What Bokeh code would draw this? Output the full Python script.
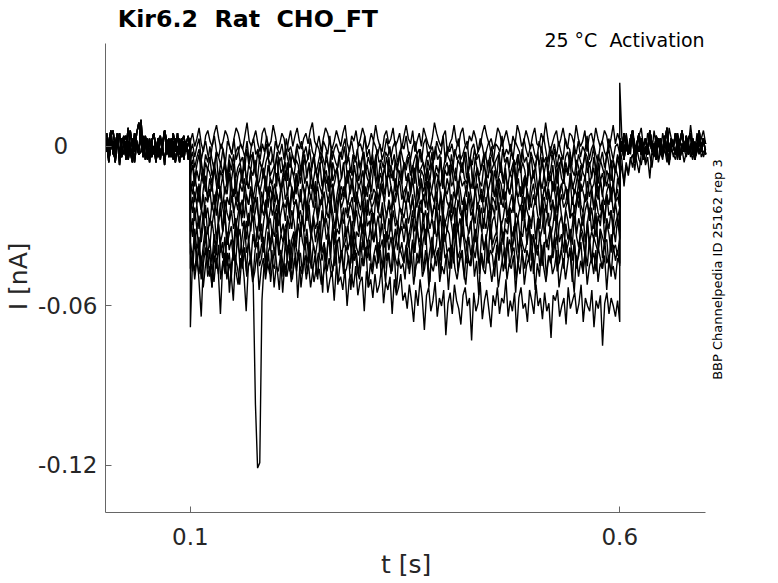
from math import pi
import numpy as np
from bokeh.plotting import figure
from bokeh.models import Range1d, FixedTicker, Label
from bokeh.embed import file_html
from bokeh.resources import INLINE

# ---------------- data (currents in pA) ----------------
t_start, t_on, t_off, t_end = 0.0, 0.1, 0.6, 0.7

x_ticks = [0.1, 0.6]
y_ticks = [-0.12, -0.06, 0.0]
NB = "\u00a0"
y_tick_labels = {-0.12: "-0.12", -0.06: "-0.06", 0.0: "0" + NB * 4}

# holding current before the step (0 - 0.1 s)
pre_a = [3,5,-2,4,6,-1,1,5,-4,2,4,-3,6,0,-2,5,9,2,-3,4,0,-4,2,5,-2,3,-3,1,6,2,-4,3,0,-2,5,-3,2,4,-2,1,3]
pre_b = [-2,3,-5,0,2,-6,3,-3,1,4,-5,2,-2,-6,3,0,-3,10,-2,2,-5,3,-4,0,-6,2,4,-2,-5,1,3,-4,2,-6,0,-2,3,-5,2,-3,0]
pre_c = [3,-2,2,6,-3,1,5,-4,3,2,-2,7,0,-3,5,2,-2,6,-4,1,3,-3,2,5,-2,-4,3,0,6,-3,2,-2,5,0,-3,3,-4,2,1,4,-2]
pre_d = [-3,1,-6,2,-2,-5,3,-7,0,-3,2,-5,-1,3,-6,1,-3,-2,4,-5,0,-6,2,-3,-1,3,-5,1,-7,2,-3,0,-5,3,-2,-6,1,-3,2,-5,-1]

# current during the step (0.1 - 0.6 s), one list per sweep
sweep_01 = [2,5,0,3,7,1,-2,4,6,2,0,5,8,3,-1,2,6,4,0,-3,3,7,5,1,-1,4,9,2,0,3,6,1,-2,5,7,3,0,2,8,4,-1,1,5,3,-3,2,6,0,4,7,2,-1,3,5,1,6,9,2,0,4,-2,3,7,5,1,-1,2,6,3,0,5,8,1,-2,4,2,6,0,3,7,4,-1,1,5,2,8,3,0,-2,4,6,1,3,7,0,2,5,-1,4,8,
            3,1,6,-2,2,5,0,7,4,1,-1,3,9,5,2,0,4,6,-3,1,3,8,2,0,5,7,1,-1,4,2,6,3,-2,0,5,8,4,1,3,-1,2,7,5,0,3,6,2,-2,4,1,8,5,0,2,6,3,-1,4,7,1,0,5,2,9,3,-2,1,4,6,0,3,7,2,-1,5,4,1,8,3,0,2,6,-2,4,5,1,7,3,0,2,6,4,-1,3,8,1,5,2]
sweep_02 = [-2,1,-4,0,3,-5,-1,2,-3,-6,0,4,-2,-4,1,-1,-7,2,0,-3,3,-5,-2,1,-1,-4,2,-6,0,3,-3,-1,-5,1,-2,4,-4,0,-6,2,-1,-3,1,-5,3,-2,0,-4,-7,1,-1,2,-3,0,-5,3,-2,-4,1,-1,-6,2,0,-3,4,-5,-1,1,-2,-4,0,3,-6,-1,2,-3,-5,0,1,-2,4,-4,-1,-7,2,0,-3,1,-5,-2,3,-1,-4,0,2,-6,-3,1,-1,4,
            -2,-5,0,2,-3,-1,-6,1,3,-4,-2,0,-5,2,-1,-3,4,-6,0,-2,1,-4,-1,3,-5,-3,0,2,-7,-1,1,-4,-2,3,0,-5,-1,2,-3,-6,1,0,-2,4,-4,-1,-3,1,-5,2,0,-2,-6,3,-1,-4,0,1,-3,-5,2,-2,4,-1,-6,0,-3,1,-4,2,-2,-5,3,0,-1,-7,1,-3,2,-4,0,-2,4,-5,-1,1,-3,-6,0,2,-2,-4,3,-1,-5,0,1,-3]
sweep_03 = [-5,-2,-8,-4,-1,-7,-10,-3,-6,0,-5,-9,-2,-4,-7,-1,-6,-11,-3,-5,-8,-2,0,-6,-4,-9,-1,-7,-3,-5,-10,-2,-6,-8,-4,1,-5,-7,-3,-9,-2,-6,-4,-11,-1,-5,-8,-3,-6,0,-4,-9,-2,-7,-5,-1,-8,-3,-10,-6,-2,-4,-7,-5,-9,-1,-3,-6,-8,-2,-5,0,-7,-4,-10,-3,-6,-1,-8,-5,-2,-9,-4,-7,-3,-11,-1,-6,-5,-8,-2,-4,0,-7,-3,-9,-6,-1,-5,-8,
            -4,-2,-10,-6,-3,-7,-1,-5,-9,-4,-2,-8,-6,0,-5,-3,-11,-7,-2,-4,-6,-9,-1,-5,-3,-8,-6,-2,-10,-4,-7,-1,-5,-3,-9,-6,-2,-8,-4,0,-7,-5,-3,-10,-1,-6,-4,-8,-2,-5,-7,-3,-9,-1,-6,-4,-11,-2,-5,-8,-3,-7,0,-6,-4,-9,-2,-5,-1,-8,-3,-6,-10,-4,-2,-7,-5,-1,-9,-3,-6,-8,-2,-4,-7,-5,0,-10,-3,-6,-2,-8,-4,-1,-7,-5,-9,-3,-6]
sweep_04 = [-8,-5,-12,-7,-3,-10,-14,-6,-9,-4,-11,-8,-2,-13,-6,-10,-7,-15,-5,-9,-3,-12,-8,-6,-11,-4,-14,-7,-9,-2,-10,-13,-5,-8,-12,-6,-3,-11,-9,-7,-15,-4,-10,-8,-6,-13,-2,-9,-11,-5,-7,-14,-8,-3,-12,-6,-10,-4,-9,-13,-7,-5,-11,-2,-8,-15,-6,-10,-9,-3,-12,-7,-5,-14,-8,-11,-4,-6,-13,-9,-2,-10,-7,-12,-5,-8,-3,-14,-6,-11,-9,-4,-10,-7,-13,-5,-8,-2,-12,-6,
            -9,-4,-11,-7,-14,-3,-10,-8,-6,-13,-5,-9,-2,-12,-7,-10,-4,-15,-8,-6,-11,-3,-9,-13,-5,-7,-10,-2,-12,-8,-6,-14,-4,-9,-11,-7,-3,-13,-5,-10,-8,-6,-12,-2,-9,-14,-7,-4,-11,-8,-5,-13,-3,-10,-6,-9,-15,-7,-4,-12,-8,-2,-11,-6,-10,-5,-13,-9,-3,-7,-14,-8,-4,-12,-6,-10,-2,-9,-11,-5,-8,-13,-7,-3,-10,-6,-12,-4,-9,-14,-5,-8,-11,-2,-7,-13,-6,-10,-4,-9]
sweep_05 = [-11,-7,-15,-9,-13,-5,-12,-17,-8,-10,-14,-6,-11,-16,-9,-12,-4,-15,-10,-13,-7,-18,-11,-8,-14,-6,-12,-16,-9,-11,-5,-15,-13,-8,-10,-17,-7,-12,-14,-9,-4,-11,-16,-10,-13,-6,-15,-8,-12,-18,-9,-11,-5,-14,-10,-7,-16,-13,-8,-12,-6,-15,-11,-9,-17,-4,-13,-10,-8,-14,-12,-6,-16,-9,-11,-15,-7,-13,-5,-10,-18,-8,-12,-14,-9,-6,-11,-16,-10,-13,-7,-15,-4,-12,-9,-17,-8,-11,-14,-6,
            -13,-10,-16,-7,-12,-5,-15,-9,-11,-18,-8,-13,-6,-14,-10,-12,-4,-16,-9,-11,-7,-15,-13,-8,-17,-10,-6,-12,-14,-9,-5,-16,-11,-8,-13,-15,-7,-10,-12,-4,-17,-9,-14,-11,-6,-13,-8,-16,-10,-12,-5,-15,-9,-7,-18,-11,-13,-6,-14,-10,-8,-16,-12,-4,-11,-15,-9,-13,-7,-17,-10,-6,-12,-14,-8,-11,-5,-16,-13,-9,-15,-7,-10,-12,-4,-14,-11,-8,-17,-6,-13,-10,-15,-9,-12,-5,-16,-8,-11,-14]
sweep_06 = [-14,-18,-11,-16,-21,-13,-9,-15,-19,-12,-17,-8,-14,-20,-16,-11,-18,-13,-7,-15,-19,-12,-21,-14,-10,-17,-13,-16,-9,-20,-15,-11,-18,-14,-8,-16,-19,-12,-15,-21,-10,-13,-17,-14,-9,-18,-12,-16,-20,-11,-15,-7,-14,-19,-13,-17,-10,-16,-21,-12,-15,-18,-9,-14,-11,-20,-16,-13,-8,-17,-15,-19,-12,-10,-18,-14,-21,-11,-16,-13,-9,-19,-15,-12,-17,-7,-14,-20,-16,-11,-18,-13,-10,-15,-19,-12,-17,-9,-14,-21,
            -16,-11,-18,-13,-8,-15,-20,-12,-17,-14,-10,-19,-16,-11,-21,-13,-15,-9,-18,-12,-16,-7,-14,-20,-17,-11,-15,-13,-19,-10,-16,-12,-18,-8,-14,-21,-15,-11,-17,-13,-9,-19,-16,-12,-14,-20,-10,-15,-18,-13,-7,-16,-12,-19,-14,-11,-17,-21,-13,-9,-15,-18,-12,-16,-10,-20,-14,-11,-17,-13,-8,-19,-15,-12,-16,-21,-10,-14,-18,-13,-9,-17,-15,-11,-20,-12,-16,-14,-8,-18,-13,-19,-11,-15,-10,-17,-14,-21,-12,-16]
sweep_07 = [-17,-13,-21,-15,-19,-24,-16,-11,-20,-18,-14,-22,-17,-12,-19,-23,-15,-18,-10,-21,-16,-20,-24,-14,-17,-12,-19,-22,-15,-18,-21,-13,-16,-25,-17,-11,-23,-15,-19,-14,-18,-22,-16,-12,-20,-17,-24,-15,-19,-10,-18,-21,-14,-17,-23,-16,-20,-13,-18,-15,-22,-19,-11,-17,-21,-14,-16,-25,-18,-13,-20,-15,-19,-22,-16,-12,-18,-21,-14,-17,-23,-15,-19,-13,-20,-16,-18,-24,-14,-17,-21,-11,-19,-15,-22,-18,-16,-13,-20,-17,
            -15,-21,-18,-12,-19,-23,-16,-14,-20,-17,-24,-13,-18,-21,-15,-11,-19,-22,-16,-18,-14,-25,-17,-20,-13,-16,-22,-19,-15,-12,-18,-23,-17,-14,-20,-16,-21,-11,-18,-24,-15,-19,-13,-17,-22,-16,-20,-14,-18,-12,-23,-17,-19,-15,-21,-13,-16,-24,-18,-14,-20,-17,-11,-22,-15,-19,-16,-21,-13,-18,-25,-17,-14,-20,-15,-19,-12,-22,-16,-18,-23,-14,-17,-21,-13,-19,-15,-24,-16,-20,-12,-18,-22,-17,-14,-21,-15,-19,-16,-23]
sweep_08 = [-20,-25,-17,-22,-14,-23,-27,-19,-21,-16,-24,-18,-26,-20,-15,-23,-28,-19,-22,-13,-25,-21,-17,-24,-20,-27,-18,-22,-16,-25,-19,-23,-28,-17,-21,-24,-15,-20,-26,-22,-18,-25,-14,-21,-23,-19,-27,-17,-22,-20,-25,-16,-24,-19,-28,-21,-18,-23,-13,-26,-20,-22,-17,-25,-19,-24,-14,-21,-27,-18,-23,-20,-16,-25,-22,-19,-28,-17,-21,-24,-15,-20,-26,-18,-23,-21,-17,-25,-19,-14,-22,-27,-20,-24,-18,-21,-16,-23,-26,-19,
            -22,-17,-24,-20,-27,-15,-21,-25,-18,-23,-13,-20,-26,-22,-17,-24,-19,-28,-16,-21,-23,-18,-25,-20,-14,-22,-27,-19,-24,-17,-21,-26,-15,-23,-20,-18,-25,-22,-16,-28,-19,-21,-24,-13,-20,-23,-17,-26,-22,-18,-25,-15,-21,-24,-19,-27,-16,-20,-23,-18,-22,-14,-26,-21,-19,-25,-17,-24,-20,-28,-15,-22,-18,-23,-21,-16,-27,-19,-24,-20,-13,-22,-25,-18,-21,-26,-17,-23,-19,-15,-24,-20,-28,-18,-22,-16,-25,-21,-19,-23]
sweep_09 = [-24,-19,-28,-22,-31,-25,-18,-27,-23,-30,-21,-26,-17,-29,-24,-32,-20,-25,-28,-19,-23,-31,-26,-21,-27,-16,-24,-30,-22,-28,-25,-19,-32,-23,-26,-20,-29,-24,-17,-27,-22,-30,-25,-21,-28,-19,-26,-31,-23,-20,-27,-24,-29,-18,-25,-22,-33,-26,-21,-28,-23,-19,-30,-24,-27,-20,-25,-31,-22,-17,-26,-29,-23,-27,-21,-24,-30,-19,-25,-28,-22,-32,-20,-26,-23,-29,-18,-24,-27,-21,-31,-25,-22,-28,-19,-26,-30,-23,-24,-27,
            -21,-29,-25,-18,-26,-32,-23,-20,-28,-24,-30,-19,-27,-22,-25,-31,-17,-24,-29,-26,-21,-28,-23,-33,-20,-25,-27,-22,-30,-18,-26,-24,-29,-21,-27,-23,-31,-19,-25,-28,-22,-26,-16,-24,-30,-27,-21,-29,-23,-25,-20,-32,-26,-22,-28,-19,-24,-27,-31,-23,-20,-26,-29,-18,-25,-22,-30,-27,-21,-24,-28,-19,-26,-32,-23,-20,-27,-25,-29,-22,-17,-26,-30,-24,-21,-28,-23,-31,-20,-25,-27,-22,-29,-18,-26,-24,-30,-21,-27,-23]
sweep_10 = [-28,-34,-23,-31,-26,-36,-29,-22,-33,-27,-30,-24,-35,-28,-21,-32,-26,-37,-29,-24,-31,-27,-34,-22,-30,-28,-35,-25,-32,-20,-29,-33,-26,-36,-28,-23,-31,-27,-34,-25,-30,-22,-33,-29,-37,-26,-31,-24,-28,-35,-23,-30,-27,-32,-21,-29,-34,-26,-31,-28,-36,-24,-30,-27,-33,-22,-29,-35,-25,-31,-28,-23,-34,-30,-26,-37,-29,-24,-32,-27,-33,-21,-30,-28,-35,-25,-31,-26,-34,-23,-29,-36,-27,-32,-24,-30,-28,-33,-26,-31,
            -27,-35,-30,-24,-32,-28,-22,-34,-29,-37,-25,-31,-27,-33,-21,-30,-26,-36,-28,-32,-24,-29,-35,-23,-31,-27,-34,-20,-28,-33,-30,-25,-36,-29,-22,-32,-27,-31,-24,-35,-28,-26,-33,-21,-30,-37,-27,-29,-23,-34,-31,-25,-28,-36,-22,-30,-32,-26,-29,-24,-35,-27,-31,-21,-33,-28,-25,-34,-30,-23,-37,-29,-26,-32,-24,-28,-35,-30,-22,-33,-27,-31,-25,-36,-29,-23,-32,-28,-34,-26,-30,-21,-35,-27,-31,-24,-33,-29,-26,-32]
sweep_11 = [-32,-27,-37,-30,-40,-33,-25,-35,-31,-38,-28,-34,-41,-29,-36,-32,-24,-37,-33,-30,-39,-27,-35,-31,-42,-34,-28,-36,-30,-26,-38,-33,-35,-29,-40,-32,-27,-37,-31,-34,-25,-39,-33,-36,-30,-28,-41,-35,-32,-38,-29,-34,-26,-37,-31,-40,-33,-28,-36,-30,-39,-34,-27,-35,-32,-42,-29,-37,-31,-33,-26,-38,-35,-30,-36,-28,-40,-32,-34,-27,-39,-31,-37,-33,-25,-36,-30,-41,-34,-29,-38,-32,-35,-27,-37,-31,-39,-33,-30,-36,
            -29,-38,-34,-27,-40,-31,-36,-33,-25,-37,-30,-35,-42,-28,-34,-32,-39,-26,-36,-31,-33,-41,-29,-35,-30,-38,-24,-34,-37,-32,-28,-40,-33,-36,-27,-31,-39,-35,-30,-26,-37,-34,-32,-42,-28,-36,-31,-33,-25,-38,-35,-29,-40,-32,-34,-27,-37,-30,-36,-33,-41,-28,-35,-31,-24,-38,-34,-30,-39,-32,-27,-36,-33,-40,-29,-35,-31,-37,-26,-34,-38,-30,-33,-42,-28,-36,-32,-35,-25,-39,-31,-34,-37,-29,-33,-40,-30,-36,-27,-35]
sweep_12 = [-36,-42,-31,-39,-34,-45,-37,-30,-41,-35,-44,-33,-38,-29,-40,-36,-46,-32,-39,-35,-43,-31,-37,-41,-34,-28,-40,-36,-44,-33,-38,-30,-42,-37,-35,-45,-32,-39,-34,-41,-29,-37,-43,-36,-31,-40,-35,-46,-33,-38,-42,-30,-36,-39,-34,-44,-32,-37,-41,-35,-28,-40,-36,-43,-33,-38,-31,-45,-37,-34,-42,-36,-30,-39,-35,-44,-32,-38,-41,-34,-29,-40,-37,-43,-33,-36,-31,-42,-38,-35,-46,-32,-39,-34,-41,-37,-30,-40,-36,-43,
            -38,-33,-44,-36,-40,-29,-37,-42,-35,-31,-45,-39,-34,-41,-37,-28,-43,-36,-33,-40,-38,-46,-32,-35,-42,-39,-30,-37,-44,-34,-41,-36,-31,-39,-45,-33,-38,-35,-43,-29,-40,-37,-34,-42,-36,-32,-46,-38,-35,-41,-30,-39,-44,-33,-37,-40,-36,-28,-43,-34,-38,-41,-32,-45,-37,-35,-39,-31,-42,-36,-34,-44,-38,-30,-40,-37,-33,-43,-35,-46,-39,-32,-36,-41,-29,-38,-44,-34,-37,-40,-31,-42,-36,-35,-45,-33,-39,-37,-41,-34]
sweep_13 = [-40,-47,-35,-44,-38,-50,-41,-33,-46,-39,-53,-37,-43,-48,-36,-42,-34,-45,-40,-49,-37,-44,-31,-46,-41,-38,-47,-35,-43,-50,-39,-36,-45,-42,-34,-48,-40,-37,-44,-46,-33,-41,-39,-49,-36,-43,-47,-38,-35,-45,-42,-40,-48,-34,-44,-39,-46,-37,-41,-50,-36,-43,-38,-45,-33,-42,-47,-40,-35,-44,-39,-48,-37,-41,-46,-34,-43,-40,-49,-36,-45,-38,-42,-35,-47,-41,-37,-44,-39,-46,-33,-43,-40,-48,-36,-42,-45,-38,-41,-44,
            -37,-46,-42,-35,-49,-40,-44,-33,-47,-39,-43,-51,-36,-41,-45,-38,-48,-34,-42,-40,-46,-37,-44,-31,-47,-41,-39,-50,-36,-43,-45,-38,-42,-35,-48,-40,-46,-33,-44,-39,-41,-49,-37,-43,-36,-47,-42,-34,-45,-40,-38,-50,-44,-35,-41,-46,-39,-43,-33,-48,-40,-37,-45,-42,-36,-49,-41,-44,-38,-34,-47,-43,-39,-46,-35,-42,-40,-51,-37,-44,-41,-36,-48,-39,-45,-34,-43,-40,-47,-38,-42,-46,-35,-44,-41,-49,-37,-43,-39,-45]
sweep_14 = [-68,-42,-47,-39,-51,-64,-44,-38,-49,-45,-53,-41,-46,-37,-50,-43,-48,-40,-55,-44,-39,-47,-52,-42,-46,-38,-49,-44,-41,-52,-97,-121,-119,-58,-44,
            -47,-40,-51,-43,-38,-46,-54,-41,-45,-49,-37,-44,-50,-42,-47,-39,-53,-45,-41,-48,-36,-44,-51,-46,-40,-43,-55,-38,-47,-42,-49,-45,-37,-52,-44,-40,-48,-46,-41,-54,-43,-39,-47,-50,-42,-45,-38,-53,-44,-48,-41,-46,-36,-49,-43,-51,-40,-45,-47,-39,-55,-42,-46,-44,-50,-38,-48,-41,-52,-45,-43,-37,-49,-46,-40,-53,-44,-47,-42,-39,-51,-45,-48,-41,-54,-43,-38,-46,-50,-44,-40,-47,-52,-42,-45,-37,-49,-43,-56,-41,-46,-48,-39,-44,-51,-45,-40,-53,-47,-42,-38,-50,-44,-46,-41,-55,-43,-48,-39,-52,-45,-42,-47,-40,-54,-44,-49,-37,-46,-51,-43,-41,-48,-45,-39,-53,-47,-42,-50,-44,-38,-46,-55,-41,-49,-43,-47,-40,-52,-45,-42,-48,-39,-51,-44,-46,-41,-54,-43,-47,-45,-50,-42,-44]
sweep_15 = [-46,-40,-50,-43,-48,-41,-53,-45,-39,-49,-44,-51,-42,-47,-63,-45,-40,-50,-44,-48,-58,-42,-46,-52,-41,-49,-62,-45,-43,-51,-47,-40,-54,-46,-42,-50,-44,-48,-39,-53,-45,-47,-41,-55,-44,-49,-43,-51,-46,-40,-57,-45,-48,-42,-50,-44,-53,-47,-41,-49,
            -46,-52,-48,-44,-55,-50,-47,-58,-45,-51,-49,-54,-46,-60,-50,-48,-53,-45,-56,-51,-49,-62,-47,-53,-50,-57,-48,-55,-52,-46,-59,-51,-54,-49,-63,-50,-56,-53,-48,-58,
            -55,-61,-52,-58,-66,-54,-60,-50,-57,-69,-56,-53,-62,-58,-51,-64,-57,-60,-54,-71,-59,-55,-63,-52,-58,-61,-67,-56,-53,-60,-57,-73,-55,-62,-59,-51,-65,-58,-54,-61,-68,-56,-60,-53,-63,-57,-59,-50,-64,-58,-62,-55,-70,-57,-53,-61,-59,-66,-54,-58,-63,-52,-60,-57,-65,-55,-62,-59,-72,-56,-58,-54,-64,-60,-57,-67,-53,-61,-58,-55,-63,-59,-52,-66,-57,-60,-62,-54,-68,-58,-61,-56,-75,-59,-55,-63,-57,-60,-64,-58,-66]

# current after the step (0.6 - 0.7 s)
post_a = [24,3,-2,5,0,-3,6,1,-2,4,7,0,-3,5,2,-2,6,0,3,-3,5,1,-2,7,3,0,-3,5,1,6,-2,3,0,8,1,-3,5,0,3,6,1]
post_b = [-4,-9,-13,-6,-10,-4,-8,-2,-6,-10,-3,-1,-7,-4,-12,-2,-4,1,-6,-2,-5,2,-4,-7,-1,-3,-5,1,-4,-1,-6,-2,1,-4,-1,-5,-2,2,-4,-2,-1]
post_c = [0,-5,-15,-7,-11,-5,-3,-9,-1,-5,-7,-2,-6,1,-3,-8,-1,-2,-5,2,-4,-1,-6,-2,1,-4,-1,-5,3,-2,-1,-4,1,-2,-5,2,-1,-3,0,-4,-1]
post_d = [3,-2,5,0,-3,3,6,-2,1,5,-3,0,3,-2,6,1,-3,4,0,3,-2,1,7,-2,3,0,5,-3,1,6,0,-2,3,5,-3,1,0,6,-2,3,1]
post_e = [-2,2,-5,3,-3,0,4,-6,1,-2,3,-5,0,-3,5,-2,1,-5,3,0,-3,4,-2,-6,1,0,-3,3,-5,1,-2,4,-3,0,3,-5,1,-2,0,3,-3]

sweeps = [sweep_01, sweep_02, sweep_03, sweep_04, sweep_05, sweep_06, sweep_07, sweep_08,
          sweep_09, sweep_10, sweep_11, sweep_12, sweep_13, sweep_14, sweep_15]
pres = [pre_a, pre_b, pre_c, pre_d, pre_a, pre_b, pre_c, pre_d, pre_a, pre_b, pre_c, pre_d, pre_a, pre_b, pre_c]
posts = [post_a, post_d, post_e, post_d, post_e, post_d, post_e, post_d, post_e, post_d, post_e, post_d, post_e, post_b, post_c]

# ---------------- build sweeps ----------------
xs, ys = [], []
for pre, mid, post in zip(pres, sweeps, posts):
    t = np.concatenate([np.linspace(t_start, t_on, len(pre)),
                        np.linspace(t_on, t_off, len(mid)),
                        np.linspace(t_off, t_end, len(post))])
    i_nA = np.concatenate([pre, mid, post]) / 1000.0
    xs.append(t.tolist())
    ys.append(i_nA.tolist())

# ---------------- figure ----------------
W, H = 778, 583
FL, FB = 104, 71                 # left / bottom border (px)
PX_X, PX_Y = 860.0, 2658.3       # px per s, px per nA
X0 = 0.00116
X1 = X0 + (W - FL) / PX_X
Y0 = -0.1377
Y1 = Y0 + (H - FB) / PX_Y
AXIS_X_END, AXIS_Y_END = 0.7, 0.03875

p = figure(width=W, height=H, output_backend="svg", toolbar_location=None,
           x_range=Range1d(X0, X1), y_range=Range1d(Y0, Y1))
p.title.visible = False
p.min_border_left = FL
p.min_border_right = 0
p.min_border_top = 0
p.min_border_bottom = FB
p.outline_line_color = None
p.grid.visible = False
p.background_fill_color = "white"
p.border_fill_color = "white"

p.multi_line(xs=xs, ys=ys, line_color="black", line_width=1.4)

FONT = "DejaVu Sans"
AX = "#262626"
AXL = "#666666"
for ax in (p.xaxis, p.yaxis):
    ax.axis_line_color = AXL
    ax.axis_line_width = 1
    ax.major_tick_line_color = AXL
    ax.minor_tick_line_color = None
    ax.major_tick_in = 6
    ax.major_tick_out = 0
    ax.major_label_text_font = FONT
    ax.major_label_text_font_size = "23px"
    ax.major_label_text_color = AX
    ax.axis_label_text_font = FONT
    ax.axis_label_text_font_size = "25px"
    ax.axis_label_text_font_style = "normal"
    ax.axis_label_text_color = AX
p.xaxis.bounds = (X0, AXIS_X_END)
p.yaxis.bounds = (Y0, AXIS_Y_END)
p.xaxis.ticker = FixedTicker(ticks=x_ticks)
p.xaxis.major_label_overrides = {v: str(v) for v in x_ticks}
p.xaxis.major_label_standoff = 15
# trailing no-break spaces re-centre the labels on the drawn axis box
p.xaxis.axis_label = "t [s]" + NB * 9
p.xaxis.axis_label_standoff = 2
p.yaxis.ticker = FixedTicker(ticks=y_ticks)
p.yaxis.major_label_overrides = y_tick_labels
p.yaxis.major_label_standoff = 8
p.yaxis.axis_label = "I [nA]" + NB * 5
p.yaxis.axis_label_standoff = 2

p.add_layout(Label(x=0.0155, y=0.0478, text="Kir6.2" + NB + " Rat" + NB + " CHO_FT", text_font=FONT,
                   text_font_style="bold", text_font_size="23.7px", text_color="black",
                   text_align="left", text_baseline="alphabetic"))
p.add_layout(Label(x=0.6988, y=0.0402, text="25 °C" + NB + " Activation", text_font=FONT,
                   text_font_size="19px", text_color="black",
                   text_align="right", text_baseline="alphabetic"))
p.add_layout(Label(x=0.7140, y=-0.0463, angle=pi / 2,
                   text="BBP Channelpedia ID 25162 rep 3", text_font=FONT,
                   text_font_size="13px", text_color="black",
                   text_align="center", text_baseline="alphabetic"))

open("out.html", "w").write(file_html(p, INLINE))
